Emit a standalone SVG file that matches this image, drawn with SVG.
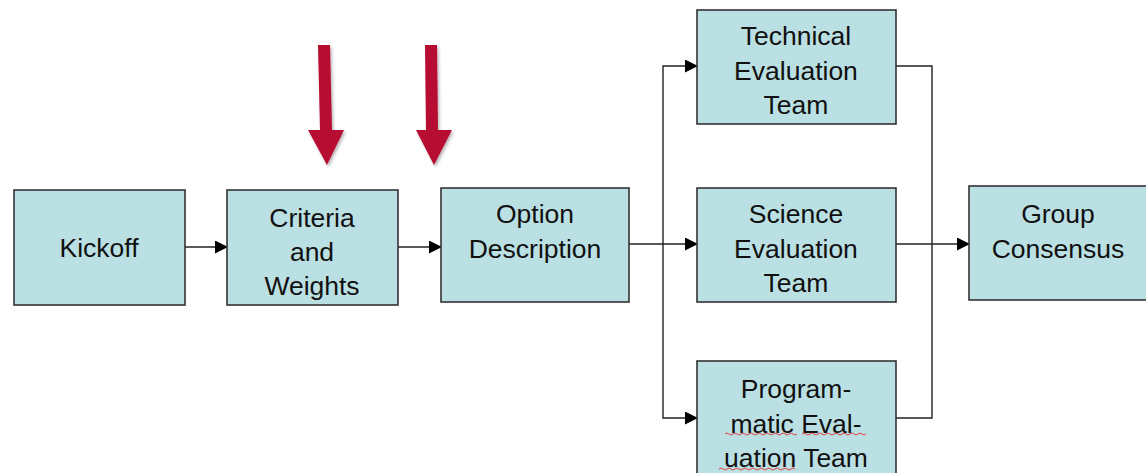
<svg xmlns="http://www.w3.org/2000/svg" width="1146" height="473" viewBox="0 0 1146 473">
<defs>
<style>
.box{fill:#BBE0E3;stroke:#333;stroke-width:1.6}
.t{font-family:"Liberation Sans",Arial,sans-serif;font-size:26.5px;fill:#111;text-anchor:middle}
.c{fill:none;stroke:#222;stroke-width:1.4}
.red{fill:#B70A30}
.sq{fill:none;stroke:#E04040;stroke-width:1}
</style>
<marker id="ah" markerWidth="13" markerHeight="13" refX="12" refY="6.5" orient="auto" markerUnits="userSpaceOnUse" viewBox="0 0 13 13">
<path d="M0,0 L13,6.5 L0,13 Z" fill="#000"/>
</marker>
<filter id="sh" x="-50%" y="-20%" width="200%" height="140%">
<feDropShadow dx="1.5" dy="2" stdDeviation="1.5" flood-color="#000" flood-opacity="0.3"/>
</filter>
</defs>
<rect width="1146" height="473" fill="#fff"/>
<g id="connectors">
<line class="c" x1="185" y1="247" x2="227" y2="247" marker-end="url(#ah)"/>
<line class="c" x1="398" y1="247" x2="441" y2="247" marker-end="url(#ah)"/>
<line class="c" x1="629" y1="244" x2="697" y2="244" marker-end="url(#ah)"/>
<polyline class="c" points="663,244 663,66 697,66" marker-end="url(#ah)"/>
<polyline class="c" points="663,244 663,418 697,418" marker-end="url(#ah)"/>
<polyline class="c" points="896,66 932,66 932,418 896,418"/>
<line class="c" x1="896" y1="244" x2="969" y2="244" marker-end="url(#ah)"/>
</g>
<g id="red-arrows" filter="url(#sh)">
<path class="red" d="M318,45 L330,45 L332,130 L344,130 L327,165 L308,130 L320,130 Z"/>
<path class="red" d="M425,45 L437,45 L438,130 L452,130 L434,165 L416,130 L426,130 Z"/>
</g>
<g id="kickoff">
<rect class="box" x="14" y="190" width="171" height="115"/>
<text class="t" x="99" y="257">Kickoff</text>
</g>
<g id="criteria">
<rect class="box" x="227" y="190" width="171" height="115"/>
<text class="t" x="312" y="227">Criteria</text>
<text class="t" x="312" y="261">and</text>
<text class="t" x="312" y="295">Weights</text>
</g>
<g id="option">
<rect class="box" x="441" y="188" width="188" height="114"/>
<text class="t" x="535" y="223">Option</text>
<text class="t" x="535" y="258">Description</text>
</g>
<g id="technical">
<rect class="box" x="697" y="10" width="199" height="114"/>
<text class="t" x="796" y="45">Technical</text>
<text class="t" x="796" y="80">Evaluation</text>
<text class="t" x="796" y="114">Team</text>
</g>
<g id="science">
<rect class="box" x="697" y="188" width="199" height="114"/>
<text class="t" x="796" y="223">Science</text>
<text class="t" x="796" y="258">Evaluation</text>
<text class="t" x="796" y="292">Team</text>
</g>
<g id="programmatic">
<rect class="box" x="697" y="361" width="199" height="125"/>
<text class="t" x="796" y="398">Program-</text>
<text class="t" x="796" y="433">matic Eval-</text>
<text class="t" x="796" y="467">uation Team</text>
<path class="sq" d="M725,434 q2,-2 4,0 t4,0 t4,0 t4,0 t4,0 t4,0 t4,0 t4,0 t4,0 t4,0 t4,0 t4,0 t4,0 t4,0 t4,0 t4,0 t4,0 t4,0"/>
<path class="sq" d="M802,434 q2,-2 4,0 t4,0 t4,0 t4,0 t4,0 t4,0 t4,0 t4,0 t4,0 t4,0 t4,0 t4,0 t4,0 t4,0 t4,0 t4,0"/>
<path class="sq" d="M719,469 q2,-2 4,0 t4,0 t4,0 t4,0 t4,0 t4,0 t4,0 t4,0 t4,0 t4,0 t4,0 t4,0 t4,0 t4,0 t4,0 t4,0 t4,0 t4,0 t4,0"/>
</g>
<g id="group-consensus">
<rect class="box" x="969" y="186" width="185" height="114"/>
<text class="t" x="1058" y="223">Group</text>
<text class="t" x="1058" y="258">Consensus</text>
</g>
</svg>
